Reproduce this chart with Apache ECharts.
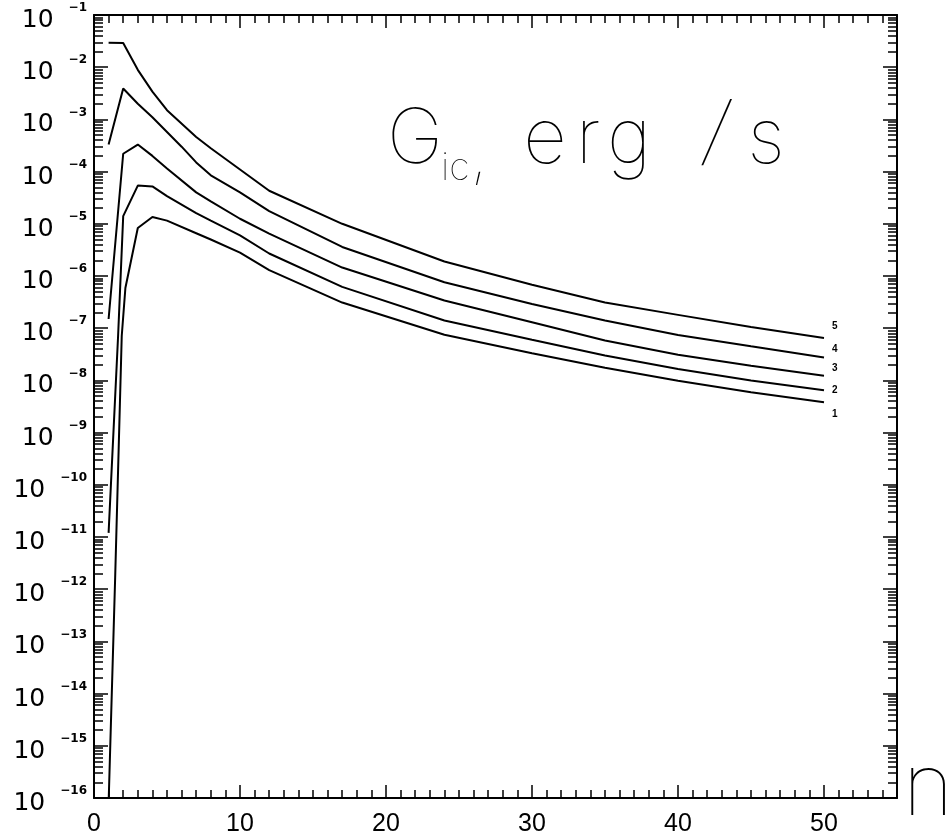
<!DOCTYPE html>
<html><head><meta charset="utf-8">
<script src="https://cdn.jsdelivr.net/npm/echarts@6/dist/echarts.min.js"></script>
<style>html,body{margin:0;padding:0;background:#fff}#c{width:950px;height:840px}</style>
</head><body><div id="c"></div>
<script>
// ---- data (n, G_ic in erg/s) ----
const n1 = [1, 1.45, 1.9, 2.15, 3, 4, 5, 7, 8, 10, 12, 17, 24, 30, 35, 40, 45, 50];
const g1 = [8e-17, 1.7e-12, 7.1e-8, 5.9e-7, 8.3e-6, 1.35e-5, 1.15e-5, 6.6e-6, 5.0e-6, 2.8e-6, 1.3e-6, 3.1e-7, 7.5e-8, 3.3e-8, 1.75e-8, 9.8e-9, 5.9e-9, 3.8e-9];
const n2 = [1, 1.65, 2, 3, 4, 5, 7, 8, 10, 12, 17, 24, 30, 35, 40, 45, 50];
const g2 = [1.2e-11, 7.1e-8, 1.4e-5, 5.4e-5, 5.2e-5, 3.4e-5, 1.6e-5, 1.15e-5, 6.0e-6, 2.7e-6, 6.2e-7, 1.4e-7, 6.0e-8, 3.0e-8, 1.65e-8, 1.0e-8, 6.5e-9];
const n3 = [1, 2, 3, 4, 5, 7, 8, 10, 12, 17, 24, 30, 35, 40, 45, 50];
const g3 = [1.5e-7, 2.2e-4, 3.3e-4, 2.0e-4, 1.15e-4, 4.0e-5, 2.7e-5, 1.25e-5, 6.5e-6, 1.45e-6, 3.4e-7, 1.3e-7, 5.8e-8, 3.1e-8, 1.9e-8, 1.23e-8];
const n4 = [1, 2, 3, 4, 6, 7, 8, 10, 12, 17, 24, 30, 35, 40, 45, 50];
const g4 = [3.3e-4, 3.9e-3, 2.0e-3, 1.1e-3, 3.0e-4, 1.5e-4, 8.5e-5, 4.0e-5, 1.75e-5, 3.6e-6, 7.6e-7, 2.9e-7, 1.4e-7, 7.4e-8, 4.5e-8, 2.75e-8];
const n5 = [1, 2, 3, 4, 5, 7, 8, 10, 12, 17, 24, 30, 35, 40, 45, 50];
const g5 = [2.95e-2, 2.9e-2, 8.9e-3, 3.4e-3, 1.5e-3, 4.6e-4, 2.8e-4, 1.1e-4, 4.3e-5, 1.0e-5, 1.9e-6, 6.8e-7, 3.1e-7, 1.8e-7, 1.05e-7, 6.5e-8];
const curveLabels = ['1', '2', '3', '4', '5'];
const xTickLabels = [0, 10, 20, 30, 40, 50];
const yExpMin = -16, yExpMax = -1;

// ---- helpers (decoration only) ----
const yMinor = [];
for (let k = yExpMin; k < yExpMax; k++) for (let m = 2; m <= 9; m++) yMinor.push(k + Math.log10(m));
const xMinor = [];
for (let i = 1; i < 55; i++) if (i % 10) xMinor.push(i);

const black = '#000';
const tickStyle = { color: black, width: 1.5 };
const lineStyleAxis = { color: black, width: 2 };
const xBase = { type: 'value', min: 0, max: 55, splitLine: { show: false } };
const yBase = { type: 'value', min: yExpMin, max: yExpMax, splitLine: { show: false } };

function expText(v) { return (v < 0 ? '\u2212' : '') + Math.abs(Math.round(v)); }

const labelOffsets = [[0, 12], [0, 0], [0, -7], [0, -8], [0, -12]];
const ns = [n1, n2, n3, n4, n5], gs = [g1, g2, g3, g4, g5];
const series = ns.map((n, s) => ({
  type: 'line',
  xAxisIndex: 0, yAxisIndex: 0,
  data: n.map((x, i) => [x, Math.log10(gs[s][i])]),
  showSymbol: false, symbol: 'none',
  lineStyle: { color: black, width: 2 },
  clip: true, silent: true,
  endLabel: { show: true, formatter: curveLabels[s], fontSize: 10, fontWeight: 'bold',
    fontFamily: 'Liberation Sans', color: black, distance: 8, offset: labelOffsets[s] }
}));

const big = { fontSize: 76, fontFamily: 'Inter', fontWeight: 100, color: black, verticalAlign: 'bottom', lineHeight: 80, padding: [0, 0, 10, 0] };
function letter(w, extra) { return Object.assign({}, big, { width: w, align: 'center' }, extra || {}); }

const chart = echarts.init(document.getElementById('c'));
chart.setOption({
  animation: false,
  backgroundColor: '#fff',
  grid: { left: 94, right: 53, top: 15, bottom: 42, containLabel: false, outerBoundsMode: 'none' },
  title: [{
    text: '{G|G}{s|ic}{c|,}{e|e}{r|r}{g|g}{sp| }{sl|/}{ss|s}',
    left: 382, top: 103,
    textStyle: { rich: {
      G: Object.assign({}, big, { width: 54, align: 'left' }),
      s: { fontSize: 38, fontFamily: 'Inter', fontWeight: 100, color: black, verticalAlign: 'bottom', lineHeight: 80, width: 30, align: 'left' },
      c: { fontSize: 60, fontFamily: 'Inter', fontWeight: 100, color: black, verticalAlign: 'bottom', lineHeight: 80, width: 48, align: 'left' },
      e: letter(52), r: letter(34), g: letter(48), sp: letter(43),
      sl: letter(40, { fontStyle: 'italic', padding: [0, 0, 16, 0] }), ss: letter(60)
    } }
  }, {
    text: 'n', left: 898, top: 741,
    textStyle: { fontSize: 86, fontFamily: 'Inter', fontWeight: 100, color: black, lineHeight: 86 }
  }],
  xAxis: [
    Object.assign({}, xBase, { position: 'bottom', interval: 10,
      axisLine: { show: true, onZero: false, lineStyle: lineStyleAxis },
      axisTick: { show: true, inside: true, length: 13, lineStyle: tickStyle, customValues: xTickLabels },
      axisLabel: { show: true, customValues: xTickLabels, fontSize: 25, fontFamily: 'Liberation Sans', color: black, margin: 14 } }),
    Object.assign({}, xBase, { position: 'bottom',
      axisLine: { show: false, onZero: false },
      axisTick: { show: true, inside: true, length: 8, lineStyle: tickStyle, customValues: xMinor },
      axisLabel: { show: false } }),
    Object.assign({}, xBase, { position: 'top', interval: 10,
      axisLine: { show: true, onZero: false, lineStyle: lineStyleAxis },
      axisTick: { show: true, inside: true, length: 13, lineStyle: tickStyle, customValues: xTickLabels },
      axisLabel: { show: false } }),
    Object.assign({}, xBase, { position: 'top',
      axisLine: { show: false, onZero: false },
      axisTick: { show: true, inside: true, length: 8, lineStyle: tickStyle, customValues: xMinor },
      axisLabel: { show: false } })
  ],
  yAxis: [
    Object.assign({}, yBase, { position: 'left', interval: 1,
      axisLine: { show: true, onZero: false, lineStyle: lineStyleAxis },
      axisTick: { show: true, inside: true, length: 14, lineStyle: tickStyle },
      axisLabel: { show: true, margin: 7, padding: [8, 0, 0, 0],
        formatter: v => '{b|10}{e|' + expText(v) + '}',
        rich: {
          b: { fontSize: 25, fontFamily: 'DejaVu Sans', color: black, verticalAlign: 'bottom', lineHeight: 28 },
          e: { fontSize: 12, fontFamily: 'DejaVu Sans', fontWeight: 'bold', color: black, verticalAlign: 'bottom', lineHeight: 28, padding: [0, 0, 19, 15] }
        } } }),
    Object.assign({}, yBase, { position: 'left',
      axisLine: { show: false, onZero: false },
      axisTick: { show: true, inside: true, length: 9, lineStyle: tickStyle, customValues: yMinor },
      axisLabel: { show: false } }),
    Object.assign({}, yBase, { position: 'right', interval: 1,
      axisLine: { show: true, onZero: false, lineStyle: lineStyleAxis },
      axisTick: { show: true, inside: true, length: 14, lineStyle: tickStyle },
      axisLabel: { show: false } }),
    Object.assign({}, yBase, { position: 'right',
      axisLine: { show: false, onZero: false },
      axisTick: { show: true, inside: true, length: 9, lineStyle: tickStyle, customValues: yMinor },
      axisLabel: { show: false } })
  ],
  series: series
});
</script>
</body></html>
